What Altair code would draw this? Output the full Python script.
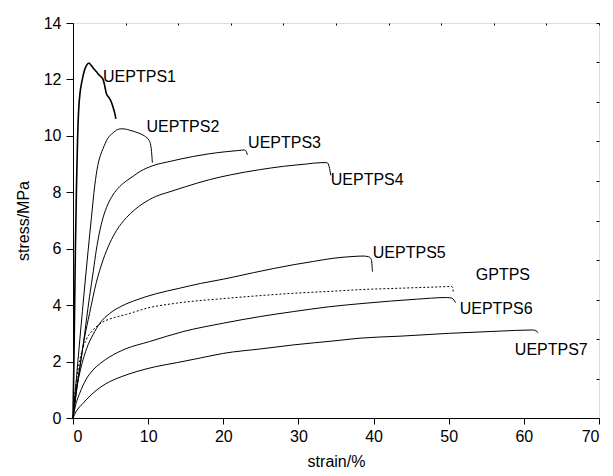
import altair as alt
import pandas as pd

# ---- data (strain %, stress MPa) ----
s1_x = [0, 0.12, 0.22, 0.32, 0.45, 0.6, 0.75, 0.95, 1.2, 1.5, 1.8, 2.13, 2.4, 2.7, 3.1, 3.5, 4.0, 4.2, 4.44, 4.8, 5.1, 5.4, 5.6, 5.7]
s1_y = [0, 2.0, 4.0, 6.0, 8.0, 9.8, 10.9, 11.55, 11.95, 12.3, 12.5, 12.58, 12.5, 12.4, 12.28, 12.15, 12.0, 11.8, 11.5, 11.35, 11.2, 10.95, 10.75, 10.6]

s2_x = [0, 0.5, 1.0, 1.5, 2.0, 2.45, 2.9, 3.3, 3.7, 4.0, 4.6, 5.3, 5.9, 6.44, 7.0, 7.55, 8.2, 8.9, 9.5, 9.85, 10.1, 10.3, 10.45, 10.56]
s2_y = [0, 1.55, 3.05, 4.5, 5.9, 7.1, 8.25, 8.95, 9.35, 9.55, 9.9, 10.1, 10.22, 10.25, 10.24, 10.2, 10.15, 10.08, 10.0, 9.93, 9.85, 9.72, 9.45, 9.05]

s3_x = [0, 0.5, 1.33, 2.2, 2.7, 3.1, 3.5, 4.0, 4.6, 5.3, 6.2, 7.3, 8.0, 9.0, 10.6, 13.0, 16.0, 18.0, 20.4, 22.0, 22.85, 23.05, 23.2]
s3_y = [0, 1.0, 2.55, 4.3, 5.2, 5.95, 6.55, 7.1, 7.55, 7.9, 8.2, 8.44, 8.57, 8.75, 8.94, 9.1, 9.27, 9.36, 9.44, 9.48, 9.5, 9.45, 9.33]

s4_x = [0, 0.45, 0.9, 1.5, 2.2, 3.1, 4.0, 4.9, 5.8, 7.1, 8.2, 9.3, 11.0, 12.9, 15.0, 18.2, 21.0, 24.8, 28.0, 31.0, 33.0, 33.8, 34.1, 34.3]
s4_y = [0, 1.0, 1.8, 2.8, 3.7, 4.8, 5.6, 6.2, 6.65, 7.1, 7.38, 7.6, 7.85, 8.02, 8.2, 8.45, 8.62, 8.8, 8.92, 9.0, 9.05, 9.05, 8.9, 8.6]

s5_x = [0, 0.45, 0.9, 1.8, 2.66, 3.55, 4.9, 6.5, 8.4, 11.0, 14.2, 17.0, 20.0, 24.0, 29.3, 32.0, 34.6, 37.0, 38.6, 39.3, 39.7, 39.85]
s5_y = [0, 1.0, 1.6, 2.45, 2.95, 3.35, 3.71, 3.97, 4.18, 4.4, 4.6, 4.77, 4.92, 5.15, 5.43, 5.55, 5.66, 5.72, 5.74, 5.72, 5.62, 5.19]

g_x = [0, 0.2, 0.45, 0.9, 1.4, 1.8, 2.66, 3.55, 4.4, 5.5, 7.1, 9.8, 13.8, 20.4, 25.0, 29.3, 35.0, 38.2, 43.5, 48.0, 50.4, 50.55, 50.6]
g_y = [0, 0.7, 1.3, 2.05, 2.55, 2.8, 3.12, 3.33, 3.46, 3.56, 3.67, 3.89, 4.07, 4.24, 4.34, 4.42, 4.5, 4.55, 4.6, 4.64, 4.66, 4.6, 4.48]

s6_x = [0, 0.3, 0.9, 1.7, 2.66, 3.7, 4.9, 7.0, 10.2, 14.6, 20.0, 25.0, 29.3, 34.0, 39.0, 45.7, 49.7, 50.4, 50.7, 50.9]
s6_y = [0, 0.4, 0.88, 1.35, 1.7, 1.95, 2.17, 2.45, 2.71, 3.06, 3.36, 3.6, 3.77, 3.94, 4.07, 4.21, 4.27, 4.25, 4.18, 4.09]

s7_x = [0, 0.4, 1.33, 2.66, 3.7, 4.9, 6.5, 8.4, 11.0, 13.8, 17.0, 20.0, 25.0, 29.3, 35.0, 38.2, 43.5, 50.0, 56.8, 61.2, 61.6, 61.9]
s7_y = [0, 0.22, 0.52, 0.88, 1.1, 1.29, 1.47, 1.64, 1.82, 1.96, 2.13, 2.29, 2.45, 2.59, 2.74, 2.83, 2.9, 3.0, 3.08, 3.12, 3.09, 3.02]

label_text = ["UEPTPS1", "UEPTPS2", "UEPTPS3", "UEPTPS4", "UEPTPS5", "GPTPS", "UEPTPS6", "UEPTPS7"]
label_x = [4.0, 9.77, 23.3, 34.3, 39.9, 53.6, 51.46, 58.8]
label_y = [12.1, 10.31, 9.74, 8.44, 5.86, 5.07, 3.85, 2.41]

x_ticks = list(range(0, 71, 5))
y_ticks = list(range(0, 15, 1))
right_ticks = [round(i * 1.4, 2) for i in range(11)]
top_ticks = [i * 7 for i in range(11)]

# ---- build tables ----
solid_series = [("UEPTPS1", s1_x, s1_y), ("UEPTPS2", s2_x, s2_y), ("UEPTPS3", s3_x, s3_y),
                ("UEPTPS4", s4_x, s4_y), ("UEPTPS5", s5_x, s5_y), ("UEPTPS6", s6_x, s6_y),
                ("UEPTPS7", s7_x, s7_y)]
rows = []
for name, xs_, ys_ in solid_series:
    for i, (a, b) in enumerate(zip(xs_, ys_)):
        rows.append({"series": name, "strain": a, "stress": b, "i": i})
solid_df = pd.DataFrame(rows)
dot_df = pd.DataFrame({"series": "GPTPS", "strain": g_x, "stress": g_y, "i": list(range(len(g_x)))})
lab_df = pd.DataFrame({"t": label_text, "x": label_x, "y": label_y})

FONT = "Liberation Sans"
xs = alt.Scale(domain=[0, 70], nice=False, zero=False)
ys = alt.Scale(domain=[0, 14], nice=False, zero=False)

x_axis = alt.Axis(values=x_ticks, labelExpr="datum.value % 10 === 0 ? datum.label : ''",
                  tickSize={"condition": {"test": "datum.value % 10 === 0", "value": 6}, "value": 3},
                  title="strain/%", titleFontSize=16, titleFontWeight="normal", titleFont=FONT,
                  labelFont=FONT, labelFontSize=16, labelPadding=4, titlePadding=9,
                  grid=False, domainColor="black", tickColor="black", labelColor="black",
                  titleColor="black")
y_axis = alt.Axis(values=y_ticks, labelExpr="datum.value % 2 === 0 ? datum.label : ''",
                  tickSize={"condition": {"test": "datum.value % 2 === 0", "value": 7}, "value": 4},
                  title="stress/MPa", titleFontSize=16, titleFontWeight="normal", titleFont=FONT,
                  labelFont=FONT, labelFontSize=16, labelPadding=5, titlePadding=12,
                  grid=False, domainColor="black", tickColor="black", labelColor="black",
                  titleColor="black")

solid = alt.Chart(solid_df).mark_line(color="black", interpolate="monotone").encode(
    x=alt.X("strain:Q", scale=xs, axis=x_axis),
    y=alt.Y("stress:Q", scale=ys, axis=y_axis),
    detail="series:N",
    order="i:Q",
    strokeWidth=alt.condition(alt.datum.series == "UEPTPS1", alt.value(1.6), alt.value(1)),
)
dotted = alt.Chart(dot_df).mark_line(color="black", strokeWidth=1, strokeDash=[2, 2],
                                     interpolate="monotone").encode(
    x=alt.X("strain:Q", scale=xs),
    y=alt.Y("stress:Q", scale=ys),
    order="i:Q",
)
labels = alt.Chart(lab_df).mark_text(align="left", baseline="middle", font=FONT, fontSize=16,
                                     color="black").encode(
    x=alt.X("x:Q", scale=xs),
    y=alt.Y("y:Q", scale=ys),
    text="t:N",
)
main = alt.layer(solid, dotted, labels)

frame = alt.Chart(lab_df).mark_point(opacity=0, size=0).encode(
    x=alt.X("x:Q", scale=xs, axis=alt.Axis(orient="top", values=top_ticks, labels=False, domain=False,
                                            tickSize=2, offset=-2, title=None, grid=False,
                                            tickColor="black")),
    y=alt.Y("y:Q", scale=ys, axis=alt.Axis(orient="right", values=right_ticks, labels=False, domain=False,
                                            tickSize=3, offset=-3, title=None, grid=False,
                                            tickColor="black")),
)

chart = alt.layer(main, frame).resolve_scale(x="independent", y="independent").properties(
    width=526, height=395,
    autosize=alt.AutoSizeParams(type="none"),
    padding={"left": 65, "top": 15, "right": 5, "bottom": 56},
).configure_view(stroke="black", strokeWidth=1).configure(background="white")

chart.save("out.html", embed_options={"renderer": "svg", "actions": False})
